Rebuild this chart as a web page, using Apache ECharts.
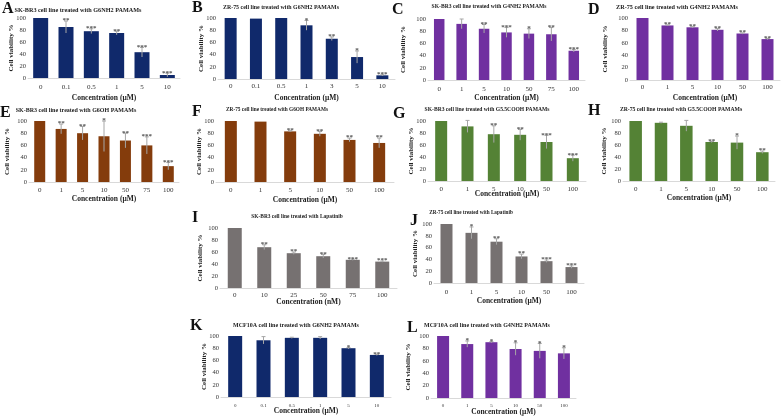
<!DOCTYPE html>
<html>
<head>
<meta charset="utf-8">
<script src="https://cdn.jsdelivr.net/npm/echarts@6/dist/echarts.min.js"></script>
<style>
html, body { margin: 0; padding: 0; background: #fff; }
#charts { width: 781px; height: 419px; }
</style>
</head>
<body>
<div id="charts"></div>
<script>
// values (cell viability %, error bar half-length, significance)
var catsA = ['0', '0.1', '0.5', '1', '5', '10'];
var valsA = [100, 85, 78, 75, 43, 5];
var errA = [0, 10, 4, 3, 8, 3];
var sigA = ['', '**', '***', '**', '***', '***'];

var catsB = ['0', '0.1', '0.5', '1', '3', '5', '10'];
var valsB = [100, 99, 100, 88, 66, 36, 6];
var errB = [0, 0, 0, 8, 3, 10, 1];
var sigB = ['', '', '', '*', '**', '*', '***'];

var catsC = ['0', '1', '5', '10', '50', '75', '100'];
var valsC = [100, 92, 84, 78, 76, 75, 48];
var errC = [0, 8, 7, 8, 8, 11, 2];
var sigC = ['', '', '**', '***', '*', '**', '***'];

var catsD = ['0', '1', '5', '10', '50', '100'];
var valsD = [100, 88, 85, 81, 75, 66];
var errD = [0, 1, 1, 2, 1, 1];
var sigD = ['', '**', '**', '**', '**', '**'];

var catsE = ['0', '1', '5', '10', '50', '75', '100'];
var valsE = [100, 87, 80, 75, 68, 60, 26];
var errE = [0, 8, 11, 25, 12, 14, 6];
var sigE = ['', '**', '**', '*', '**', '***', '***'];

var catsF = ['0', '1', '5', '10', '50', '100'];
var valsF = [100, 99, 83, 79, 69, 64];
var errF = [0, 0, 1, 4, 3, 8];
var sigF = ['', '', '**', '**', '**', '**'];

var catsG = ['0', '1', '5', '10', '50', '100'];
var valsG = [100, 91, 78, 77, 65, 38];
var errG = [0, 10, 14, 9, 11, 5];
var sigG = ['', '', '**', '**', '***', '***'];

var catsH = ['0', '1', '5', '10', '50', '100'];
var valsH = [100, 97, 92, 65, 64, 48];
var errH = [0, 1, 9, 1, 11, 2];
var sigH = ['', '', '', '**', '*', '**'];

var catsI = ['0', '10', '25', '50', '75', '100'];
var valsI = [100, 68, 58, 53, 47, 44];
var errI = [0, 4, 2, 3, 1, 1];
var sigI = ['', '**', '**', '**', '***', '***'];

var catsJ = ['0', '1', '5', '10', '50', '100'];
var valsJ = [100, 85, 70, 45, 37, 27];
var errJ = [0, 10, 5, 4, 2, 2];
var sigJ = ['', '*', '**', '**', '***', '***'];

var catsK = ['0', '0.1', '0.5', '1', '5', '10'];
var valsK = [100, 93, 97, 97, 80, 69];
var errK = [0, 6, 1, 2, 1, 1];
var sigK = ['', '', '', '', '*', '**'];

var catsL = ['0', '1', '5', '10', '50', '100'];
var valsL = [100, 87, 90, 79, 76, 72];
var errL = [0, 5, 1, 10, 12, 9];
var sigL = ['', '*', '*', '*', '*', '*'];

var serif = '"Liberation Serif", "Times New Roman", serif';
var navy = '#10296b', purple = '#7030a0', brown = '#843c0c', green = '#548235', grey = '#767171';

// layout of each panel: g = [left, top, width, height], lc/nc = label/name centre below axis
var panels = [
	{ k: 'A', cats: catsA, vals: valsA, err: errA, sig: sigA, color: navy, unit: 'μM', title: 'SK-BR3 cell line treated with G6NH2 PAMAMs', g: [28, 18, 152, 60], bw: 15, tx: 78, ty: 10, tf: 6.2, lx: 2, ly: 1, nx: 12, lc: 9, nc: 20 },
	{ k: 'B', cats: catsB, vals: valsB, err: errB, sig: sigB, color: navy, unit: 'μM', title: 'ZR-75 cell line treated with G6NH2 PAMAMs', g: [218, 18, 177, 61], bw: 12, tx: 281, ty: 7, tf: 5.9, lx: 192, ly: 0, nx: 205, lc: 7, nc: 19 },
	{ k: 'C', cats: catsC, vals: valsC, err: errC, sig: sigC, color: purple, unit: 'μM', title: 'SK-BR3 cell line treated with G4NH2 PAMAMs', g: [428, 19, 157, 61], bw: 10.5, tx: 489, ty: 7, tf: 5.6, lx: 392, ly: 2, nx: 403, lc: 9, nc: 18 },
	{ k: 'D', cats: catsD, vals: valsD, err: errD, sig: sigD, color: purple, unit: 'μM', title: 'ZR-75 cell line treated with G4NH2 PAMAMs', g: [630, 18, 150, 62], bw: 12, tx: 677, ty: 7, tf: 6.2, lx: 588, ly: 2, nx: 605, lc: 7, nc: 18 },
	{ k: 'E', cats: catsE, vals: valsE, err: errE, sig: sigE, color: brown, unit: 'μM', title: 'SK-BR3 cell line treated with G6OH PAMAMs', g: [29, 121, 150, 61], bw: 11, tx: 76, ty: 110, tf: 6.0, lx: 0, ly: 105, nx: 7, lc: 8, nc: 17 },
	{ k: 'F', cats: catsF, vals: valsF, err: errF, sig: sigF, color: brown, unit: 'μM', title: 'ZR-75 cell line treated with G6OH PAMAMs', g: [216, 121, 178, 61], bw: 12, tx: 277, ty: 110, tf: 5.3, lx: 192, ly: 104, nx: 205, lc: 8, nc: 18 },
	{ k: 'G', cats: catsG, vals: valsG, err: errG, sig: sigG, color: green, unit: 'μM', title: 'SK-BR3 cell line treated with G5.5COOH PAMAMs', g: [428, 121, 158, 60], bw: 12, tx: 487, ty: 110, tf: 5.6, lx: 393, ly: 106, nx: 412, lc: 8, nc: 13 },
	{ k: 'H', cats: catsH, vals: valsH, err: errH, sig: sigH, color: green, unit: 'μM', title: 'ZR-75 cell line treated with G5.5COOH PAMAMs', g: [623, 121, 152, 60], bw: 12.5, tx: 681, ty: 110, tf: 5.7, lx: 588, ly: 103, nx: 604, lc: 8, nc: 17 },
	{ k: 'I', cats: catsI, vals: valsI, err: errI, sig: sigI, color: grey, unit: 'nM', title: 'SK-BR3 cell line treated with Lapatinib', g: [220, 228, 177, 60], bw: 14, tx: 297, ty: 217, tf: 5.4, lx: 192, ly: 210, nx: 200, lc: 7, nc: 14 },
	{ k: 'J', cats: catsJ, vals: valsJ, err: errJ, sig: sigJ, color: grey, unit: 'μM', title: 'ZR-75 cell line treated with Lapatinib', g: [434, 224, 150, 59], bw: 12, tx: 471, ty: 213, tf: 5.2, lx: 410, ly: 213, nx: 415, lc: 9, nc: 18 },
	{ k: 'K', cats: catsK, vals: valsK, err: errK, sig: sigK, color: navy, unit: 'μM', title: 'MCF10A cell line treated with G6NH2 PAMAMs', g: [221, 336, 170, 61], bw: 14, tx: 296, ty: 325, tf: 6.0, lx: 190, ly: 318, nx: 205, lc: 9, nc: 14, xf: 5 },
	{ k: 'L', cats: catsL, vals: valsL, err: errL, sig: sigL, color: purple, unit: 'μM', title: 'MCF10A cell line treated with G4NH2 PAMAMs', g: [431, 336, 145, 62], bw: 12, tx: 487, ty: 325, tf: 6.0, lx: 407, ly: 320, nx: 408, lc: 8, nc: 14, xf: 5 }
];

var option = {
	backgroundColor: '#fff',
	animation: false,
	grid: [],
	xAxis: [],
	yAxis: [],
	series: [],
	graphic: []
};

panels.forEach(function(p, i){
	var xf = p.xf || 7;
	option.grid.push({ left: p.g[0], top: p.g[1], width: p.g[2], height: p.g[3] });
	option.xAxis.push({
		type: 'category', gridIndex: i, data: p.cats,
		axisTick: { show: false },
		axisLine: { lineStyle: { color: '#d9d9d9', width: 1 } },
		axisLabel: { fontFamily: serif, fontSize: xf, color: '#333', margin: p.lc - xf / 2 },
		name: 'Concentration (' + p.unit + ')', nameLocation: 'middle', nameGap: p.nc - 4,
		nameMoveOverlap: false,
		nameTextStyle: { fontFamily: serif, fontWeight: 'bold', fontSize: 7.5, color: '#222' }
	});
	option.yAxis.push({
		type: 'value', gridIndex: i, min: 0, max: 100, interval: 20,
		splitLine: { show: false }, axisLine: { show: false }, axisTick: { show: false },
		axisLabel: { fontFamily: serif, fontSize: 6.5, color: '#333', margin: 2 },
		name: 'Cell viability %', nameLocation: 'middle', nameGap: Math.max(13, p.g[0] - p.nx - 3.5),
		nameMoveOverlap: false,
		nameTextStyle: { fontFamily: serif, fontWeight: 'bold', fontSize: 7, color: '#222' }
	});
	option.series.push({
		type: 'bar', xAxisIndex: i, yAxisIndex: i, data: p.vals,
		barWidth: p.bw, itemStyle: { color: p.color }, silent: true
	});
	option.series.push({
		type: 'custom', xAxisIndex: i, yAxisIndex: i, z: 3, silent: true,
		data: p.vals.map(function(v, j){ return [j, v, p.err[j]]; }),
		renderItem: function(params, api){
			var j = api.value(0), v = api.value(1), e = api.value(2);
			var top = api.coord([j, v + e]), bot = api.coord([j, v - e]);
			var kids = [];
			if(e > 0){
				kids.push({ type: 'line', shape: { x1: top[0], y1: top[1], x2: bot[0], y2: bot[1] }, style: { stroke: '#a6a6a6', lineWidth: 1 } });
				kids.push({ type: 'line', shape: { x1: top[0] - 2, y1: top[1], x2: top[0] + 2, y2: top[1] }, style: { stroke: '#a6a6a6', lineWidth: 1 } });
			}
			var s = p.sig[params.dataIndex];
			if(s){
				kids.push({ type: 'text', style: { text: s, x: top[0], y: top[1] + 3, align: 'center', verticalAlign: 'bottom', fill: '#555', font: 'bold 7px ' + serif } });
			}
			return { type: 'group', children: kids };
		}
	});
	// panel letter and title
	option.graphic.push({ type: 'text', left: p.lx, top: p.ly, style: { text: p.k, fill: '#111', font: 'bold 16px ' + serif } });
	option.graphic.push({ type: 'text', x: p.tx, y: p.ty, style: { text: p.title, fill: '#222', align: 'center', verticalAlign: 'middle', font: 'bold ' + p.tf + 'px ' + serif } });
});

var myChart = echarts.init(document.getElementById('charts'));
myChart.setOption(option);
</script>
</body>
</html>
